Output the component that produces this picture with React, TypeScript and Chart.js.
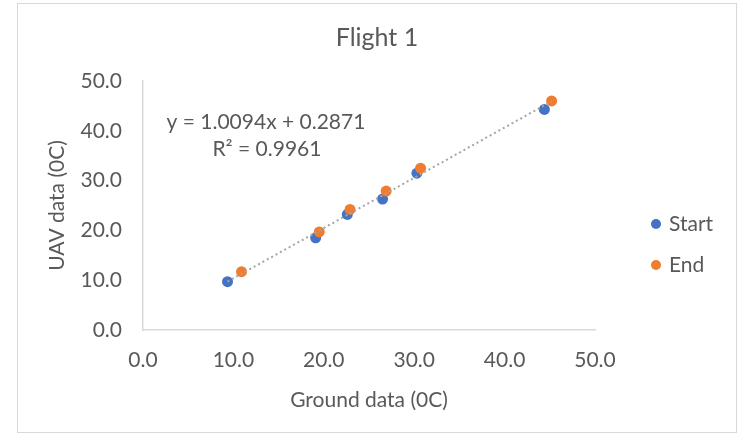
import React, { useEffect, useRef } from "react";
import { Chart, registerables, layouts } from "chart.js";

Chart.register(...registerables);

// ---- data ----
const TITLE = "Flight 1";
const X_TITLE = "Ground data (0C)";
const Y_TITLE = "UAV data (0C)";
const SERIES_NAMES = ["Start", "End"];
const START_X = [9.35, 19.1, 22.6, 26.5, 30.3, 44.4];
const START_Y = [9.7, 18.5, 23.2, 26.3, 31.5, 44.3];
const END_X = [10.9, 19.5, 22.9, 26.9, 30.7, 45.2];
const END_Y = [11.7, 19.7, 24.2, 27.9, 32.5, 46.0];
const TREND_SLOPE = 1.0094;
const TREND_INTERCEPT = 0.2871;
const TREND_R2 = 0.9961;
const AXIS_MIN = 0;
const AXIS_MAX = 50;
const AXIS_STEP = 10;

// ---- label anchor (data units) ----
const EQ_ANCHOR_X = 13.6;
const EQ_ANCHOR_Y = 41.8;

const FONT = "Lato";
const TEXT_COLOR = "#595959";
const BLUE = "#4472C4";
const ORANGE = "#ED7D31";

const toPoints = (xs: number[], ys: number[]) => xs.map((x, i) => ({ x, y: ys[i] }));

const sideLegend = {
  id: "sideLegend",
  beforeInit(chart: any) {
    const box: any = {
      position: "right",
      weight: 0,
      fullSize: false,
      options: {},
      left: 0,
      top: 0,
      right: 0,
      bottom: 0,
      width: 0,
      height: 0,
      isHorizontal() {
        return false;
      },
      update(maxWidth: number, maxHeight: number) {
        this.width = 141;
        this.height = maxHeight;
      },
      draw() {
        const ctx = chart.ctx;
        const items = chart.data.datasets.filter((d: any) => d.inLegend);
        items.sort((a: any, b: any) => a.legendIndex - b.legendIndex);
        ctx.save();
        ctx.font = `21px ${FONT}`;
        ctx.textBaseline = "middle";
        ctx.textAlign = "left";
        items.forEach((d: any, i: number) => {
          const cy = this.top + 143 + i * 41;
          const cx = this.left + 61;
          ctx.beginPath();
          ctx.arc(cx, cy, 5, 0, Math.PI * 2);
          ctx.fillStyle = d.backgroundColor;
          ctx.fill();
          ctx.fillStyle = TEXT_COLOR;
          ctx.fillText(d.label, cx + 13, cy);
        });
        ctx.restore();
      },
    };
    layouts.addBox(chart, box);
  },
};

const equationLabel = {
  id: "equationLabel",
  afterDatasetsDraw(chart: any) {
    const { ctx, scales } = chart;
    const cx = scales.x.getPixelForValue(EQ_ANCHOR_X);
    const cy = scales.y.getPixelForValue(EQ_ANCHOR_Y);
    ctx.save();
    ctx.font = `21px ${FONT}`;
    ctx.fillStyle = TEXT_COLOR;
    ctx.textAlign = "center";
    ctx.textBaseline = "middle";
    ctx.fillText(`y = ${TREND_SLOPE.toFixed(4)}x + ${TREND_INTERCEPT.toFixed(4)}`, cx, cy);
    ctx.fillText(`R² = ${TREND_R2.toFixed(4)}`, cx + 1, cy + 27);
    ctx.restore();
  },
};

export default function App() {
  const ref = useRef<HTMLCanvasElement | null>(null);

  useEffect(() => {
    if (!ref.current) return;
    const allX = [...START_X, ...END_X];
    const xMin = Math.min(...allX);
    const xMax = Math.max(...allX);
    const trend = [
      { x: xMin, y: TREND_SLOPE * xMin + TREND_INTERCEPT },
      { x: xMax, y: TREND_SLOPE * xMax + TREND_INTERCEPT },
    ];
    const tickFont = { family: FONT, size: 21 };
    const chart = new Chart(ref.current, {
      type: "scatter",
      data: {
        datasets: [
          {
            label: "trend",
            data: trend,
            showLine: true,
            pointRadius: 0,
            borderColor: "#a5a5a5",
            borderWidth: 2,
            borderDash: [2, 3],
            order: 0,
          } as any,
          {
            label: SERIES_NAMES[1],
            data: toPoints(END_X, END_Y),
            backgroundColor: ORANGE,
            borderColor: ORANGE,
            pointRadius: 5.5,
            pointBorderWidth: 0,
            order: 1,
            inLegend: true,
            legendIndex: 1,
          } as any,
          {
            label: SERIES_NAMES[0],
            data: toPoints(START_X, START_Y),
            backgroundColor: BLUE,
            borderColor: BLUE,
            pointRadius: 5.5,
            pointBorderWidth: 0,
            order: 2,
            inLegend: true,
            legendIndex: 0,
          } as any,
        ],
      },
      options: {
        responsive: false,
        animation: false,
        devicePixelRatio: 1,
        layout: { padding: { left: 18, right: 5, top: 0, bottom: 0 } },
        plugins: {
          legend: { display: false },
          tooltip: { enabled: false },
          title: {
            display: true,
            text: TITLE,
            color: TEXT_COLOR,
            font: { family: FONT, size: 25, weight: "normal" },
            padding: { top: 23, bottom: 28 },
          },
        },
        scales: {
          x: {
            type: "linear",
            min: AXIS_MIN,
            max: AXIS_MAX,
            grid: { display: false, drawTicks: false },
            border: { display: true, color: "#d9d9d9", width: 1.5 },
            ticks: {
              stepSize: AXIS_STEP,
              color: TEXT_COLOR,
              font: tickFont,
              padding: 18,
              maxRotation: 0,
              autoSkip: false,
              callback: (v: any) => Number(v).toFixed(1),
            },
            title: {
              display: true,
              text: X_TITLE,
              color: TEXT_COLOR,
              font: tickFont,
              padding: { top: 0, bottom: 20 },
            },
            afterFit: (s: any) => {
              s.height = 103;
            },
          },
          y: {
            type: "linear",
            min: AXIS_MIN,
            max: AXIS_MAX,
            grid: { display: false, drawTicks: false },
            border: { display: true, color: "#d9d9d9", width: 1.5 },
            ticks: {
              stepSize: AXIS_STEP,
              color: TEXT_COLOR,
              font: tickFont,
              padding: 21,
              callback: (v: any) => Number(v).toFixed(1),
            },
            title: {
              display: true,
              text: Y_TITLE,
              color: TEXT_COLOR,
              font: tickFont,
              padding: { top: 27, bottom: 0 },
            },
            afterFit: (s: any) => {
              s.width = 125;
            },
          },
        },
      },
      plugins: [sideLegend, equationLabel],
    });
    return () => chart.destroy();
  }, []);

  return (
    <div style={{ position: "absolute", left: 0, top: 0, width: 741, height: 433, background: "#fff" }}>
      <div
        style={{
          position: "absolute",
          left: 17,
          top: 3,
          width: 720,
          height: 430,
          border: "1px solid #d9d9d9",
          boxSizing: "border-box",
        }}
      />
      <canvas
        ref={ref}
        width={741}
        height={433}
        style={{ position: "absolute", left: 0, top: 0, width: 741, height: 433 }}
      />
    </div>
  );
}
